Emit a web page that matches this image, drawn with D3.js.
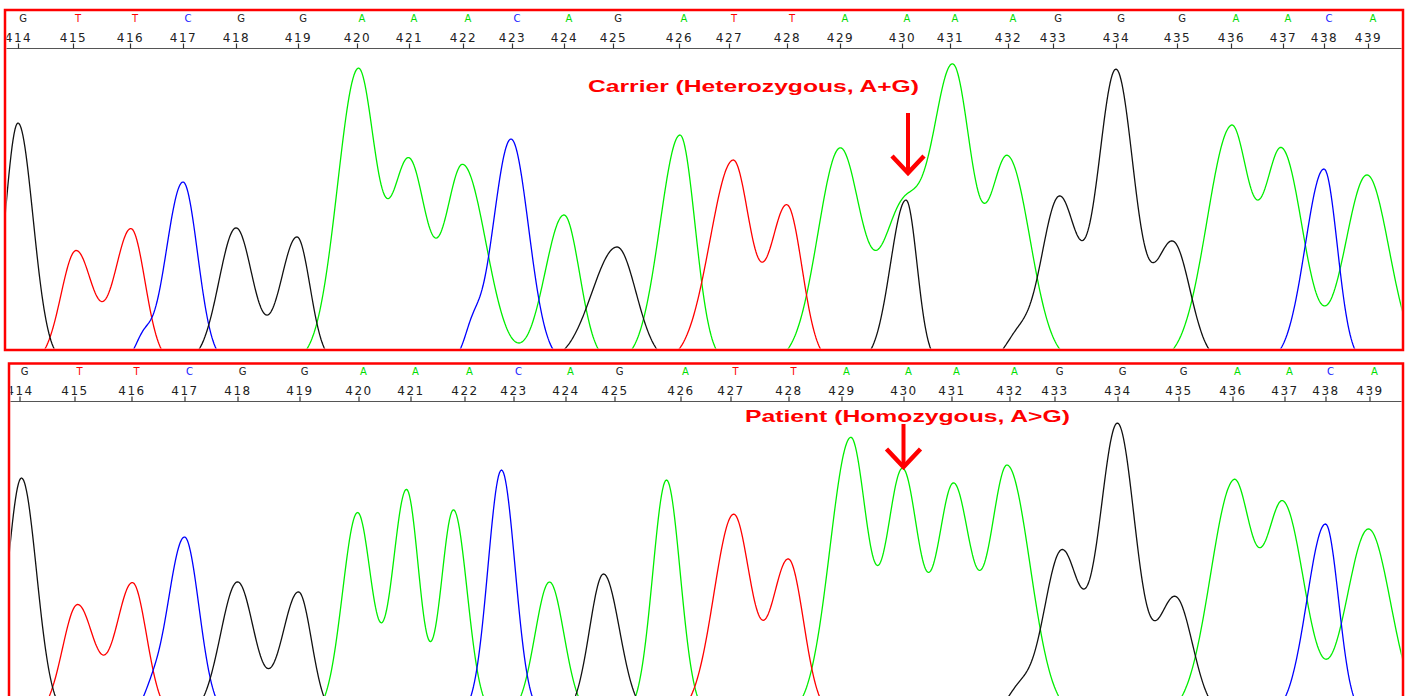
<!DOCTYPE html>
<html><head><meta charset="utf-8">
<script src="https://cdn.jsdelivr.net/npm/d3@7"></script>
<style>body{margin:0;background:#fff}svg{display:block}</style>
</head><body><svg id="c" width="1411" height="696"></svg>
<script>
// ---------- DATA ----------
const baseNumbers = [414,415,416,417,418,419,420,421,422,423,424,425,426,427,428,429,430,431,432,433,434,435,436,437,438,439];
const baseCalls = ["G","T","T","C","G","G","A","A","A","C","A","G","A","T","T","A","A","A","A","G","G","G","A","A","C","A"];
// scan position of each base call
const basePositions = [13,68,125,178,231,293,352,404,458,507,559,608,674,724,782,835,897,945,1003,1048,1111,1172,1226,1278,1319,1363];

// peaks: [scan, height (RFU), width left, width right]
const carrierG = [[13,1195,13,15],[231,670,17,16.5],[292,625,16.5,13],[612,575,25,19],[901,810,15.5,11],[1012,115,12,12],[1054,820,18,18],[1111,1455,18,18],[1168,595,18,17]];
const carrierA = [[353,1455,20.5,17.5],[404,990,17.5,17.5],[458,980,18,23],[559,735,19,15.5],[675,1135,20,15],[835,1065,22,21],[897,725,20,20],[948,1450,21,18.5],[1003,1015,18.5,22],[1226,1165,24,18],[1277,1050,18,21],[1362,935,22,22]];
const carrierT = [[71,555,15,16.5],[126,665,16.5,14],[728,1005,23,17],[782,780,17,15]];
const carrierC = [[138,100,8,8],[178,900,17,14.5],[467,125,8,8],[506,1115,18,17.5],[1319,965,18.7,13.2]];

const patientG = [[15,1185,14,15],[231,665,17,16.5],[292,615,16.5,13],[597,705,14,16],[1012,115,12,12],[1055,815,18,18],[1111,1450,18,18],[1169,585,18,17]];
const patientA = [[351,1010,15,14],[400,1125,14,12.5],[447,1025,12.5,13.6],[543,665,14.5,14.5],[660,1175,13.7,13.7],[844,1380,20.5,16.5],[896,1215,16.5,16.5],[947,1140,16.5,17.5],[1001,1240,17.5,22.5],[1227,1155,23,18],[1277,1045,18,21],[1362,930,22,22]];
const patientT = [[71,550,15,16.5],[126,660,16.5,14],[727,1000,19.6,17],[782,775,17,15]];
const patientC = [[144,65,8,8],[178,890,17,14.5],[495,1225,13.5,13.5],[1319,955,18.5,13]];

const annotations = ["Carrier (Heterozygous, A+G)", "Patient (Homozygous, A>G)"];
const markedBase = 430;

// ---------- STYLE / LAYOUT ----------
const baseColor = {G:"#111111", A:"#00ee00", T:"#ff0000", C:"#0000ff"};
const labelColor = {G:"#222222", A:"#00dd00", T:"#ff0000", C:"#1a1aff"};
const svg = d3.select("#c");

const panels = [
  {id:"carrier", dy:0, frameX:5, frameW:1398, xr:[5,1403],
   traces:{A:carrierA, T:carrierT, C:carrierC, G:carrierG},
   text:annotations[0], textX:588, textW:331, textY:92, arrowTop:113, arrowTip:173, arrowDx:6, wing:16},
  {id:"patient", dy:353, frameX:9, frameW:1394, xr:[6.5,1404.5],
   traces:{A:patientA, T:patientT, C:patientC, G:patientG},
   text:annotations[1], textX:745, textW:325, textY:422, arrowTop:424, arrowTip:467, arrowDx:0, wing:17}
];

const scanDomain = [0, 1398];
const scans = d3.range(scanDomain[0], scanDomain[1] + 1, 1);

function traceAt(peaks) {
  return scans.map(s => [s, d3.sum(peaks, p => {
    const w = s < p[0] ? p[2] : p[3];
    return p[1] * Math.exp(-((s - p[0]) ** 2) / (2 * w * w));
  })]);
}

panels.forEach((P, i) => {
  const g = svg.append("g").attr("transform", `translate(0,${P.dy})`);
  const x = d3.scaleLinear().domain(scanDomain).range(P.xr);
  const y = d3.scaleLinear().domain([0, 1500]).range([362, 62]);
  const frameTop = 10 - (i ? -0.5 : 0);
  const axisY = 48;
  const bottom = 350;

  // clip for traces and labels
  const cid = "clip-" + P.id;
  g.append("clipPath").attr("id", cid).append("rect")
    .attr("x", P.frameX + 1.5).attr("y", axisY + 1.5)
    .attr("width", P.frameW - 3).attr("height", bottom - axisY - 3);
  const lid = "lclip-" + P.id;
  g.append("clipPath").attr("id", lid).append("rect")
    .attr("x", P.frameX + 1.5).attr("y", frameTop)
    .attr("width", P.frameW - 3).attr("height", axisY - frameTop + 2);

  // traces
  const line = d3.line().x(d => x(d[0])).y(d => y(d[1]));
  const tg = g.append("g").attr("clip-path", `url(#${cid})`);
  ["A","T","C","G"].forEach(k => {
    tg.append("path").attr("d", line(traceAt(P.traces[k])))
      .attr("fill", "none").attr("stroke", baseColor[k]).attr("stroke-width", 1.3)
      .attr("stroke-linejoin", "round");
  });

  // axis
  const lg = g.append("g").attr("clip-path", `url(#${lid})`);
  lg.append("line").attr("x1", P.frameX).attr("x2", P.frameX + P.frameW)
    .attr("y1", axisY + 0.5).attr("y2", axisY + 0.5).attr("stroke", "#555").attr("stroke-width", 1.2);
  const axis = d3.axisTop(x).tickValues(basePositions)
    .tickFormat((d, j) => baseNumbers[j]).tickSize(5).tickSizeOuter(0).tickPadding(2);
  const ag = lg.append("g").attr("transform", `translate(0,${axisY + 0.5})`).call(axis);
  ag.select(".domain").remove();
  ag.selectAll(".tick line").attr("stroke", "#333").attr("stroke-width", 1.2);
  ag.selectAll(".tick text").attr("fill", "#222")
    .attr("font-family", "DejaVu Sans, sans-serif").attr("font-size", 12)
    .attr("letter-spacing", "1.6px");

  // base calls
  lg.selectAll("text.call").data(baseCalls).enter().append("text")
    .attr("class", "call")
    .attr("x", (d, j) => x(basePositions[j]) + 5)
    .attr("y", 22)
    .attr("text-anchor", "middle")
    .attr("font-family", "DejaVu Sans, sans-serif").attr("font-size", 10)
    .attr("fill", d => labelColor[d])
    .text(d => d);

  // frame
  g.append("rect").attr("x", P.frameX).attr("y", frameTop)
    .attr("width", P.frameW).attr("height", 340)
    .attr("fill", "none").attr("stroke", "#ff0000").attr("stroke-width", 2.5);

  // annotation
  g.append("text").attr("x", P.textX).attr("y", P.textY - P.dy)
    .attr("font-family", "Liberation Sans, Arial, sans-serif").attr("font-weight", "bold")
    .attr("font-size", 17).attr("fill", "#ff0000")
    .attr("textLength", P.textW).attr("lengthAdjust", "spacingAndGlyphs")
    .text(P.text);
  const ax = x(basePositions[baseNumbers.indexOf(markedBase)]) + P.arrowDx;
  const top = P.arrowTop - P.dy, tip = P.arrowTip - P.dy;
  g.append("line").attr("x1", ax).attr("x2", ax).attr("y1", top).attr("y2", tip - 3)
    .attr("stroke", "#ff0000").attr("stroke-width", 4);
  g.append("path")
    .attr("d", `M${ax - P.wing},${tip - P.wing - 1}L${ax},${tip}L${ax + P.wing},${tip - P.wing - 1}`)
    .attr("fill", "none").attr("stroke", "#ff0000").attr("stroke-width", 4.5)
    .attr("stroke-linejoin", "miter").attr("stroke-linecap", "butt");
});
</script>
</body></html>
